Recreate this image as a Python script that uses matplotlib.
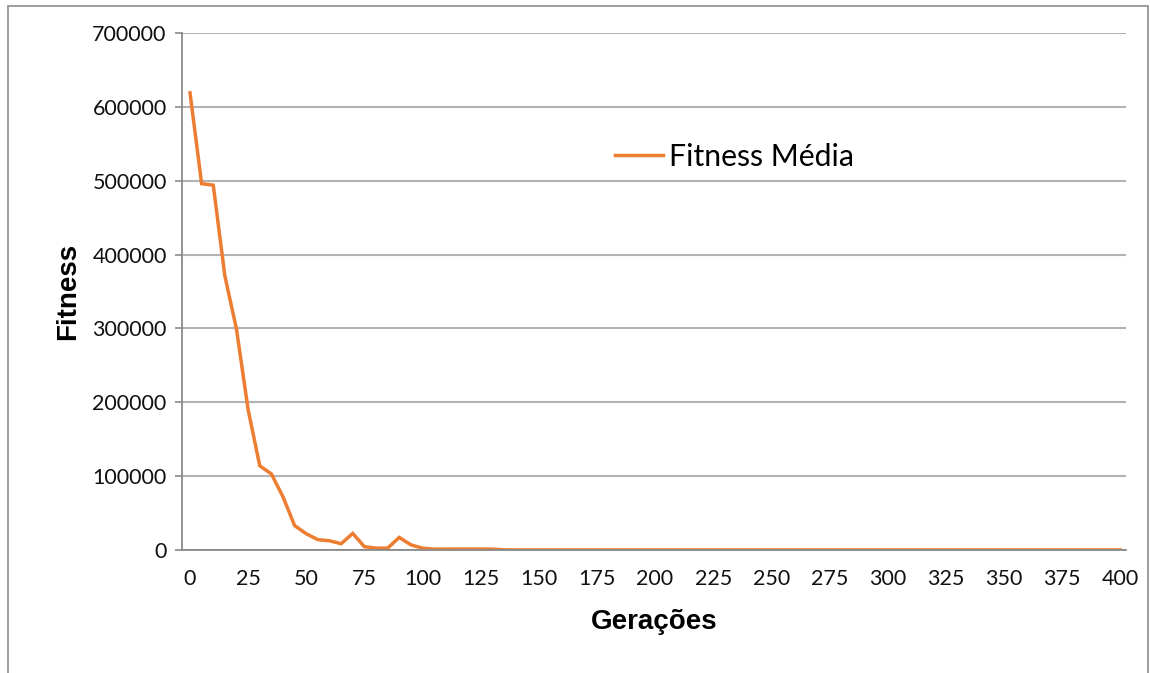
import matplotlib.pyplot as plt
from matplotlib.patches import Rectangle

# generations (every 5) and average fitness
geracoes = list(range(0, 405, 5))
fitness_head = [619000, 496000, 494000, 371000, 299000, 190000, 114000, 103000,
                72000, 33000, 22000, 14000, 12500, 8500, 22500, 4500, 2500,
                2500, 17000, 7000, 2500, 1200, 1200, 1300, 1300, 1300, 1200,
                200]
fitness_tail = [100] * (len(geracoes) - len(fitness_head))
fitness_media = fitness_head + fitness_tail

x_ticks = list(range(0, 425, 25))
y_ticks = list(range(0, 800000, 100000))

LINE_COLOR = '#ED7D31'
GRID_COLOR = '#b3b3b3'
AXIS_COLOR = '#8a8a8a'


def main():
    fig = plt.figure(figsize=(11.5, 6.73), dpi=100)
    ax = fig.add_axes([182 / 1150, 1 - 550 / 673, 944 / 1150, 517 / 673])

    ax.plot(geracoes, fitness_media, color=LINE_COLOR, linewidth=2.5,
            label='Fitness Média', solid_joinstyle='miter')

    ax.set_xlim(-8 / 2.325, 400 + 6 / 2.325)
    ax.set_ylim(0, 700000)
    ax.set_xticks(x_ticks)
    ax.set_yticks(y_ticks)
    ax.set_yticklabels([str(v) for v in y_ticks])

    ax.grid(axis='y', color=GRID_COLOR, linewidth=1.5)
    ax.set_axisbelow(True)
    for side in ['top', 'right']:
        ax.spines[side].set_visible(False)
    for side in ['left', 'bottom']:
        ax.spines[side].set_color(AXIS_COLOR)
        ax.spines[side].set_linewidth(1.3)

    ax.tick_params(axis='y', length=5, width=1.2, color=AXIS_COLOR, pad=6,
                   labelsize=15.5)
    ax.tick_params(axis='x', length=0, pad=14, labelsize=15.5)
    for lbl in ax.get_xticklabels() + ax.get_yticklabels():
        lbl.set_fontfamily('Lato')
        lbl.set_color('#111111')

    ax.set_xlabel('Gerações', fontsize=20, fontweight='bold',
                  family='Liberation Sans', labelpad=14)
    ax.set_ylabel('Fitness', fontsize=20, fontweight='bold',
                  family='Liberation Sans', labelpad=8)

    ax.legend(loc='center left', bbox_to_anchor=(0.4587, 0.760), frameon=False,
              borderpad=0, borderaxespad=0, handlelength=1.6,
              handletextpad=0.17, prop={'family': 'Lato', 'size': 21.8})

    fig.patches.append(Rectangle((8 / 1150, -0.05), 1140 / 1150, 1.05 - 6 / 673,
                                 transform=fig.transFigure, fill=False,
                                 edgecolor='#8c8c8c', linewidth=1.2))

    fig.savefig('out.png', dpi=100)


if __name__ == '__main__':
    main()
